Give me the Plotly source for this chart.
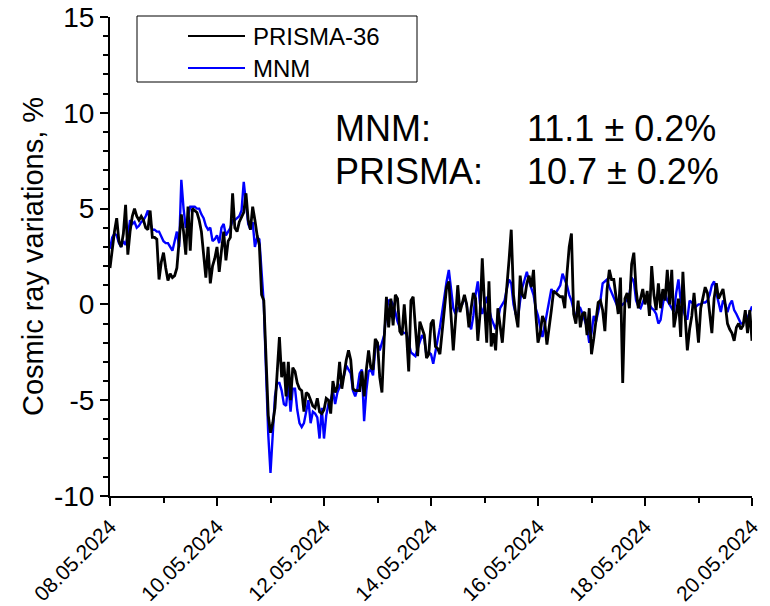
import pandas as pd
import plotly.graph_objects as go

# Hourly cosmic ray variations (%), 08.05.2024 00:00 – 20.05.2024 00:00
start_date = "2024-05-08"
n_hours = 289

prisma_name = "PRISMA-36"
prisma_values = [
    1.9, 3.0, 3.8, 4.5, 3.3, 3.0, 3.7, 5.2, 2.6, 3.8, 4.6, 5.0,
    4.6, 4.4, 4.6, 4.4, 4.0, 3.9, 4.9, 3.5, 3.5, 3.4, 1.3, 2.2,
    2.7, 1.9, 1.25, 1.6, 1.4, 1.5, 1.9, 3.3, 4.7, 3.8, 2.6, 5.1,
    2.8, 5.0, 4.9, 4.8, 4.4, 3.8, 2.6, 1.4, 3.0, 1.1, 2.0, 2.4,
    3.0, 1.7, 2.8, 3.8, 2.3, 3.3, 3.5, 5.8, 4.0, 3.8, 4.3, 4.6,
    4.8, 5.8, 4.4, 3.9, 5.1, 4.4, 3.6, 3.1, 0.5, 0.2, -2.5, -5.8,
    -6.7, -6.2, -5.4, -3.8, -1.7, -3.8, -3.0, -4.8, -3.0, -5.0, -3.3, -3.5,
    -4.1, -4.4, -4.5, -5.6, -4.6, -4.7, -5.0, -5.3, -5.4, -4.9, -5.6, -5.7,
    -5.5, -4.9, -5.0, -5.7, -4.0, -4.6, -4.3, -3.0, -4.4, -3.5, -2.9, -2.4,
    -2.9, -4.4, -4.5, -4.5, -4.5, -3.5, -4.8, -3.4, -2.4, -3.3, -3.4, -1.8,
    -2.0, -3.8, -4.6, -1.8, 0.4, -1.2, 0.3, -1.1, 0.5, 0.3, -1.4, -1.6,
    0.0, -1.5, -3.5, 0.2, 0.4, -1.2, -2.7, -0.9, -1.3, -1.6, -2.8, -2.6,
    -1.0, -0.8, -2.2, -2.3, -2.6, -1.4, -0.3, 0.9, 1.2, -0.5, -2.4, -0.8,
    1.0, -0.4, 0.0, 0.5, 0.0, -1.2, -0.2, 0.6, 0.3, -1.9, -0.5, 2.4,
    0.0, -2.0, 1.2, -2.2, -1.5, -2.4, -0.2, -1.0, -2.0, -0.5, 0.8, 2.3,
    3.9, 0.5, -0.5, -1.2, 1.5, 0.5, 0.3, 1.1, 1.5, 0.9, 1.8, -0.5,
    -2.0, -1.5, -0.6, -0.9, -2.1, -1.3, -0.3, 0.7, 0.6, 0.5, 0.4, 0.4,
    -0.2, 1.6, 3.0, 3.7, -0.5, -1.0, 0.2, -1.2, -0.5, -0.4, -1.6, -0.2,
    -2.6, -1.8, -0.8, 0.1, 0.2, -0.3, -1.4, 0.8, 1.8, 1.3, 1.3, 0.5,
    -0.5, 1.4, -4.1, 0.3, 0.6, -0.2, 2.1, 2.7, 0.8, -0.2, 0.3, 0.8,
    0.0, 0.7, -0.6, 2.0, 0.5, -0.3, 1.1, -0.2, 0.8, 0.2, 1.8, 0.0,
    1.8, -1.2, -0.5, 0.3, -1.7, 1.7, -0.6, -2.4, -1.3, -0.6, 0.6, -0.8,
    -2.0, -0.2, 0.4, 0.9, 0.6, -0.6, -1.5, 0.3, 1.1, 0.3, 0.6, 0.8,
    0.0, -1.0, -1.3, -1.5, -1.9, -1.2, -1.0, -1.3, -1.1, -0.3, -1.5, -0.3,
    -1.9,
]

mnm_name = "MNM"
mnm_values = [
    2.9, 3.5, 3.7, 3.6, 3.2, 3.0, 3.3, 3.1, 3.6, 4.4, 4.2, 4.3,
    4.0, 4.1, 4.3, 4.4, 4.6, 4.9, 4.3, 3.9, 3.9, 3.8, 3.8, 3.5,
    3.3, 3.2, 3.2, 3.0, 2.8, 3.3, 3.8, 3.0, 6.5, 5.0, 4.0, 4.6,
    5.1, 5.1, 5.1, 5.0, 5.0, 4.7, 4.5, 4.1, 3.9, 4.0, 3.3, 3.4,
    3.6, 3.2, 4.0, 4.2, 3.6, 3.8, 4.0, 4.4, 4.4, 4.5, 4.6, 4.9,
    6.4, 5.3, 4.2, 3.9, 4.3, 3.0, 3.5, 3.4, 1.5, 0.0, -3.5, -6.8,
    -8.8, -6.5, -4.8, -4.1, -4.1, -4.5, -5.2, -5.3, -4.1, -5.6, -4.4, -4.4,
    -5.5, -6.2, -6.4, -6.2, -5.6, -5.0, -6.2, -5.6, -5.7, -5.9, -7.0, -5.4,
    -7.0, -5.8, -5.2, -5.0, -4.5, -5.2, -4.6, -4.3, -4.0, -3.7, -3.2, -3.4,
    -3.6, -4.5, -4.8, -4.4, -3.6, -3.4, -6.1, -4.5, -3.5, -3.4, -3.7, -2.3,
    -2.0, -2.4, -2.0, -1.6, -0.3, 0.2, 0.2, 0.0, -0.4, -0.9, -1.2, -1.4,
    -1.5, -1.5, -2.0, -2.5, -2.6, -2.7, -2.3, -2.0, -1.6, -1.8, -2.7, -2.5,
    -2.6, -3.1, -2.5, -1.9, -1.2, -0.4, 0.5, 1.2, 1.8, 0.8, -0.2, -0.5,
    -0.2, -0.1, 0.0, 0.4, 0.0, -0.9, -1.3, -0.6, 0.5, 1.2, 0.0, -0.5,
    0.0, 0.4, -0.2, -0.7, -1.0, -1.3, -0.8, -0.2, 0.0, 0.2, 0.8, 1.3,
    1.1, 0.0, -0.5, -0.7, 0.2, 0.9, 1.3, 1.7, 1.2, 0.9, 0.5, -0.2,
    -0.6, -1.2, -1.7, -1.1, -0.5, 0.3, 0.8, 0.6, 0.6, 0.8, 1.0, 1.6,
    1.3, 1.0, 0.5, 0.2, -0.3, -0.7, -0.3, -0.2, -0.5, -0.8, -1.2, -2.0,
    -1.5, -0.6, -0.9, -0.4, 0.2, 1.1, 1.2, 1.3, 0.9, 0.6, 0.4, 0.1,
    -0.2, -0.1, 0.0, 0.1, 0.3, 0.5, 1.4, 1.2, 0.2, -0.1, -0.2, 0.1,
    0.4, 0.2, 0.0, -0.2, -0.3, -0.5, -1.0, -0.8, 0.0, 0.6, 0.2, 0.0,
    -0.2, -0.4, 0.6, 1.3, 0.2, -0.2, -0.6, -0.8, 0.2, 0.1, 0.0, -0.1,
    0.0, 0.0, 0.1, 0.1, 0.2, 0.5, 1.0, 1.2, 0.6, 0.0, -0.4, 0.2,
    0.0, -0.4, 0.0, 0.2, -0.3, -0.5, -0.8, -1.0, -1.0, -0.8, -0.7, -0.4,
    -0.1,
]

x_tick_dates = ["2024-05-08", "2024-05-10", "2024-05-12", "2024-05-14",
                "2024-05-16", "2024-05-18", "2024-05-20"]
x_tick_labels = ["08.05.2024", "10.05.2024", "12.05.2024", "14.05.2024",
                 "16.05.2024", "18.05.2024", "20.05.2024"]
y_tick_values = [-10, -5, 0, 5, 10, 15]
y_tick_labels = ["-10", "-5", "0", "5", "10", "15"]

stat_labels = ["MNM:", "PRISMA:"]
stat_values = ["11.1 ± 0.2%", "10.7 ± 0.2%"]

times = pd.date_range(start_date, periods=n_hours, freq="h")

FONT = "Arial, Liberation Sans, sans-serif"
W, H = 770, 606
ML, MR, MT, MB = 110, 18, 17, 110
PW, PH = W - ML - MR, H - MT - MB


def px_x(px):
    return (px - ML) / PW


def px_y(py):
    return (H - MB - py) / PH


fig = go.Figure()
fig.add_trace(go.Scatter(x=times, y=mnm_values, mode="lines", name=mnm_name,
                         line=dict(color="#0000FF", width=2.4)))
fig.add_trace(go.Scatter(x=times, y=prisma_values, mode="lines", name=prisma_name,
                         line=dict(color="#000000", width=2.8)))

# framed legend box with line samples
shapes = [dict(type="rect", xref="paper", yref="paper",
               x0=px_x(137), x1=px_x(417), y0=px_y(82), y1=px_y(16),
               line=dict(color="black", width=1), fillcolor="white", layer="above")]
annotations = []
for name, color, py in [(prisma_name, "#000000", 36), (mnm_name, "#0000FF", 68)]:
    shapes.append(dict(type="line", xref="paper", yref="paper",
                       x0=px_x(188), x1=px_x(245), y0=px_y(py), y1=px_y(py),
                       line=dict(color=color, width=2), layer="above"))
    annotations.append(dict(text=name, xref="paper", yref="paper",
                            x=px_x(251), y=px_y(py), xanchor="left", yanchor="middle",
                            showarrow=False, font=dict(family=FONT, size=24, color="black")))

for label, value, py in zip(stat_labels, stat_values, [128, 172]):
    annotations.append(dict(text=label, xref="paper", yref="paper",
                            x=px_x(333), y=px_y(py), xanchor="left", yanchor="middle",
                            showarrow=False, font=dict(family=FONT, size=36, color="black")))
    annotations.append(dict(text=value, xref="paper", yref="paper",
                            x=px_x(525), y=px_y(py), xanchor="left", yanchor="middle",
                            showarrow=False, font=dict(family=FONT, size=36, color="black")))

fig.update_layout(
    width=W, height=H,
    margin=dict(l=ML, r=MR, t=MT, b=MB, autoexpand=False),
    paper_bgcolor="white", plot_bgcolor="white",
    showlegend=False,
    font=dict(family=FONT, color="black"),
    shapes=shapes,
    annotations=annotations,
)

fig.update_xaxes(
    type="date", range=["2024-05-08", "2024-05-20"],
    tickmode="array", tickvals=x_tick_dates, ticktext=x_tick_labels,
    tickangle=-45, tickfont=dict(family=FONT, size=21, color="black"),
    ticks="outside", ticklen=8, tickwidth=2, tickcolor="black",
    minor=dict(ticks="outside", ticklen=5, tickwidth=2, tickcolor="black",
               dtick=86400000, tick0="2024-05-08"),
    showline=True, linecolor="black", linewidth=2,
    showgrid=False, zeroline=False, automargin=False,
)
fig.update_yaxes(
    range=[-10, 15],
    tickmode="array", tickvals=y_tick_values, ticktext=y_tick_labels,
    tickfont=dict(family=FONT, size=28, color="black"),
    ticks="outside", ticklen=8, tickwidth=2, tickcolor="black",
    minor=dict(ticks="outside", ticklen=5, tickwidth=2, tickcolor="black",
               dtick=1, tick0=0),
    showline=True, linecolor="black", linewidth=2,
    showgrid=False, zeroline=False, automargin=False,
    title=dict(text="Cosmic ray variations, %", standoff=2,
               font=dict(family=FONT, size=29, color="black")),
)

fig.write_html("out.html")
